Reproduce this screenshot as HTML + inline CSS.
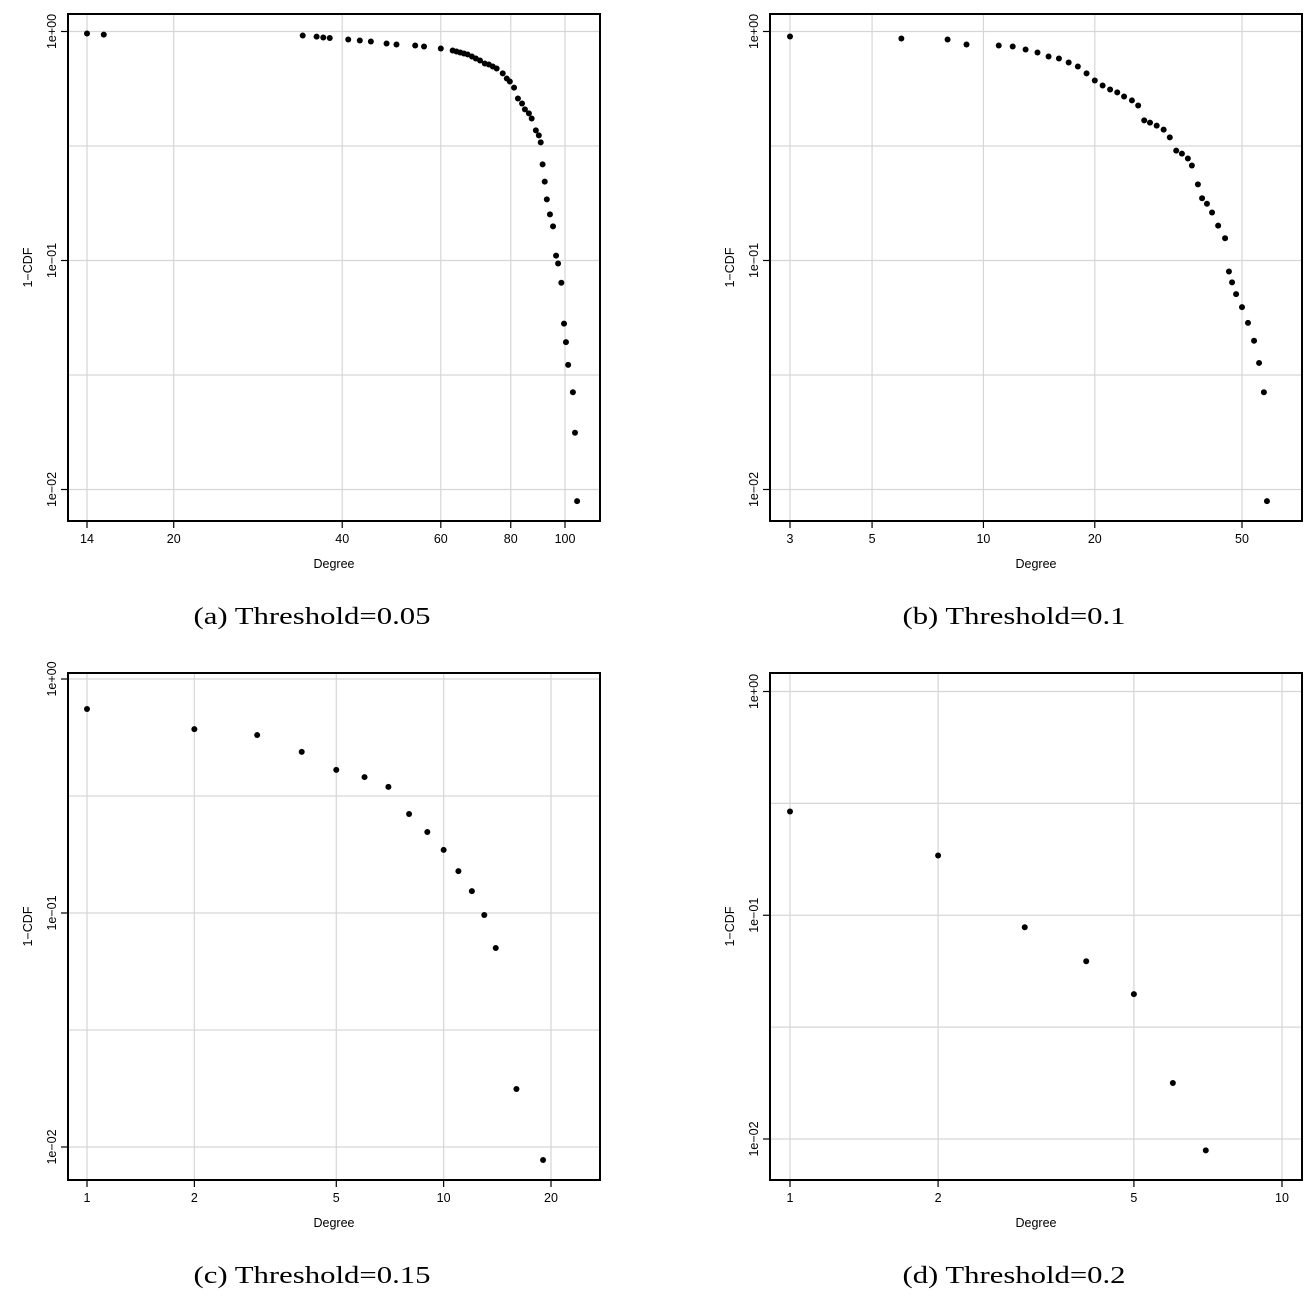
<!DOCTYPE html>
<html><head><meta charset="utf-8">
<style>
html,body{margin:0;padding:0;background:#fff;}
svg{display:block;}
</style></head>
<body>
<svg id="chart" width="1311" height="1299" viewBox="0 0 1311 1299" xmlns="http://www.w3.org/2000/svg"></svg>
<script>
// Panel (a) Threshold=0.05
const degA = [14,15,34,36,37,38,41,43,45,48,50,54,56,60,63,64,65,66,67,68.2,69.3,70.5,71.9,73.1,74.3,75.5,77.4,78.7,79.7,81.1,82.4,83.8,84.8,86.2,87.2,88.7,89.8,90.5,91.2,92,92.8,94,95.2,96.4,97.2,98.5,99.6,100.4,101.3,103.3,104.2,105.1];
const ccdfA = [0.980,0.969,0.960,0.950,0.941,0.937,0.923,0.913,0.904,0.886,0.877,0.869,0.860,0.843,0.826,0.818,0.810,0.802,0.794,0.778,0.762,0.747,0.725,0.718,0.703,0.689,0.656,0.623,0.605,0.569,0.510,0.485,0.457,0.439,0.417,0.370,0.352,0.328,0.263,0.221,0.185,0.159,0.141,0.105,0.097,0.080,0.053,0.044,0.035,0.0266,0.0177,0.0089];
const ticksA = [14,20,40,60,80,100];
// Panel (b) Threshold=0.1
const degB = [3,6,8,9,11,12,13,14,15,16,17,18,19,20,21,22,23,24,25.2,26.2,27.2,28.2,29.4,30.7,31.9,33.2,34.4,35.7,36.6,38,39,40.2,41.5,43.1,45,46.1,47,48.2,50,51.9,53.9,55.6,57.3,58.4];
const ccdfB = [0.951,0.932,0.923,0.877,0.869,0.860,0.834,0.810,0.778,0.762,0.732,0.703,0.656,0.611,0.581,0.558,0.542,0.520,0.500,0.475,0.409,0.400,0.388,0.373,0.345,0.302,0.293,0.279,0.260,0.215,0.187,0.177,0.162,0.142,0.125,0.0895,0.0803,0.0713,0.0626,0.0534,0.0446,0.0357,0.0266,0.0089];
const ticksB = [3,5,10,20,50];
// Panel (c) Threshold=0.15
const degC = [1,2,3,4,5,6,7,8,9,10,11,12,13,14,16,19];
const ccdfC = [0.744,0.611,0.576,0.488,0.409,0.381,0.346,0.265,0.222,0.186,0.151,0.124,0.098,0.0709,0.0177,0.0088];
const ticksC = [1,2,5,10,20];
// Panel (d) Threshold=0.2
const degD = [1,2,3,4,5,6,7];
const ccdfD = [0.291,0.185,0.0884,0.0623,0.0444,0.0178,0.0089];
const ticksD = [1,2,5,10];
const yTickLabels = ["1e+00","1e-01","1e-02"];
const yTickValues = [1,0.1,0.01];
const captions = ["(a) Threshold=0.05","(b) Threshold=0.1","(c) Threshold=0.15","(d) Threshold=0.2"];
const captionWidths = [237,223,237,223];

const NS="http://www.w3.org/2000/svg";
const svg=document.getElementById('chart');
function mk(tag,attrs,parent){const e=document.createElementNS(NS,tag);for(const k in attrs)e.setAttribute(k,attrs[k]);(parent||svg).appendChild(e);return e;}

const panels=[
 {key:'a',box:[68,14,600,521],x0:[14,87],x1:[100,565],y0:[1,31.5],y1:[0.01,489.5],deg:degA,val:ccdfA,ticks:ticksA},
 {key:'b',box:[770,14,1302,521],x0:[3,790],x1:[50,1242],y0:[1,31.5],y1:[0.01,489.5],deg:degB,val:ccdfB,ticks:ticksB},
 {key:'c',box:[68,673,600,1180],x0:[1,87],x1:[20,551],y0:[1,679],y1:[0.01,1147],deg:degC,val:ccdfC,ticks:ticksC},
 {key:'d',box:[770,673,1302,1180],x0:[1,790],x1:[10,1282],y0:[1,691.5],y1:[0.01,1139],deg:degD,val:ccdfD,ticks:ticksD}
];
const FONT='"Liberation Sans", Arial, sans-serif';
panels.forEach((p,i)=>{
  const g=mk('g',{});
  
  
  const lx0=Math.log10(p.x0[0]),lx1=Math.log10(p.x1[0]);
  const xs=v=>p.x0[1]+(Math.log10(v)-lx0)/(lx1-lx0)*(p.x1[1]-p.x0[1]);
  const ly0=Math.log10(p.y0[0]),ly1=Math.log10(p.y1[0]);
  const ys=v=>p.y0[1]+(Math.log10(v)-ly0)/(ly1-ly0)*(p.y1[1]-p.y0[1]);
  const [L,T,R,B]=p.box;
  [0,-0.5,-1,-1.5,-2].forEach(e=>{
    const y=ys(Math.pow(10,e));
    const l=mk('line',{x1:L,x2:R,y1:y,y2:y,stroke:'#d6d6d6','stroke-width':1.2},g);
    
    
  });
  p.ticks.forEach(t=>{
    const x=xs(t);
    const l=mk('line',{x1:x,x2:x,y1:T,y2:B,stroke:'#d6d6d6','stroke-width':1.2},g);
    
    
    const tk=mk('line',{x1:x,x2:x,y1:B,y2:B+7,stroke:'#000','stroke-width':1.2},g);
    
    
    const tx=mk('text',{x:x,y:B+22,'font-family':FONT,'font-size':12.5,'text-anchor':'middle'},g);
    tx.textContent=String(t);
    
    
  });
  yTickValues.forEach((v,j)=>{
    const y=ys(v);
    const tk=mk('line',{x1:L-7,x2:L,y1:y,y2:y,stroke:'#000','stroke-width':1.2},g);
    
    
    const tx=mk('text',{x:0,y:0,'font-family':FONT,'font-size':12.5,'text-anchor':'middle',transform:`translate(${L-12},${y}) rotate(-90)`},g);
    tx.textContent=yTickLabels[j].replace('-','\u2212');
    
    
  });
  p.deg.forEach((d,k)=>{
    const c=mk('circle',{cx:xs(d),cy:ys(p.val[k]),r:3.0,fill:'#000'},g);
    
    
  });
  const box=mk('rect',{x:L,y:T,width:R-L,height:B-T,fill:'none',stroke:'#000','stroke-width':2},g);
  
  
  const xt=mk('text',{x:(L+R)/2,y:B+47,'font-family':FONT,'font-size':12.5,'text-anchor':'middle'},g);
  xt.textContent='Degree';
  
  
  const yt=mk('text',{x:0,y:0,'font-family':FONT,'font-size':12.5,'text-anchor':'middle',transform:`translate(${L-36},${(T+B)/2}) rotate(-90)`},g);
  yt.textContent='1\u2212CDF';
  
  
  const cx=(L+R)/2-22;
  const w=captionWidths[i];
  const cap=mk('text',{x:cx-w/2,y:B+103,'font-family':'"Liberation Serif", serif','font-size':24,textLength:w,lengthAdjust:'spacingAndGlyphs'},g);
  cap.textContent=captions[i];
  
  
});
</script>
</body></html>
